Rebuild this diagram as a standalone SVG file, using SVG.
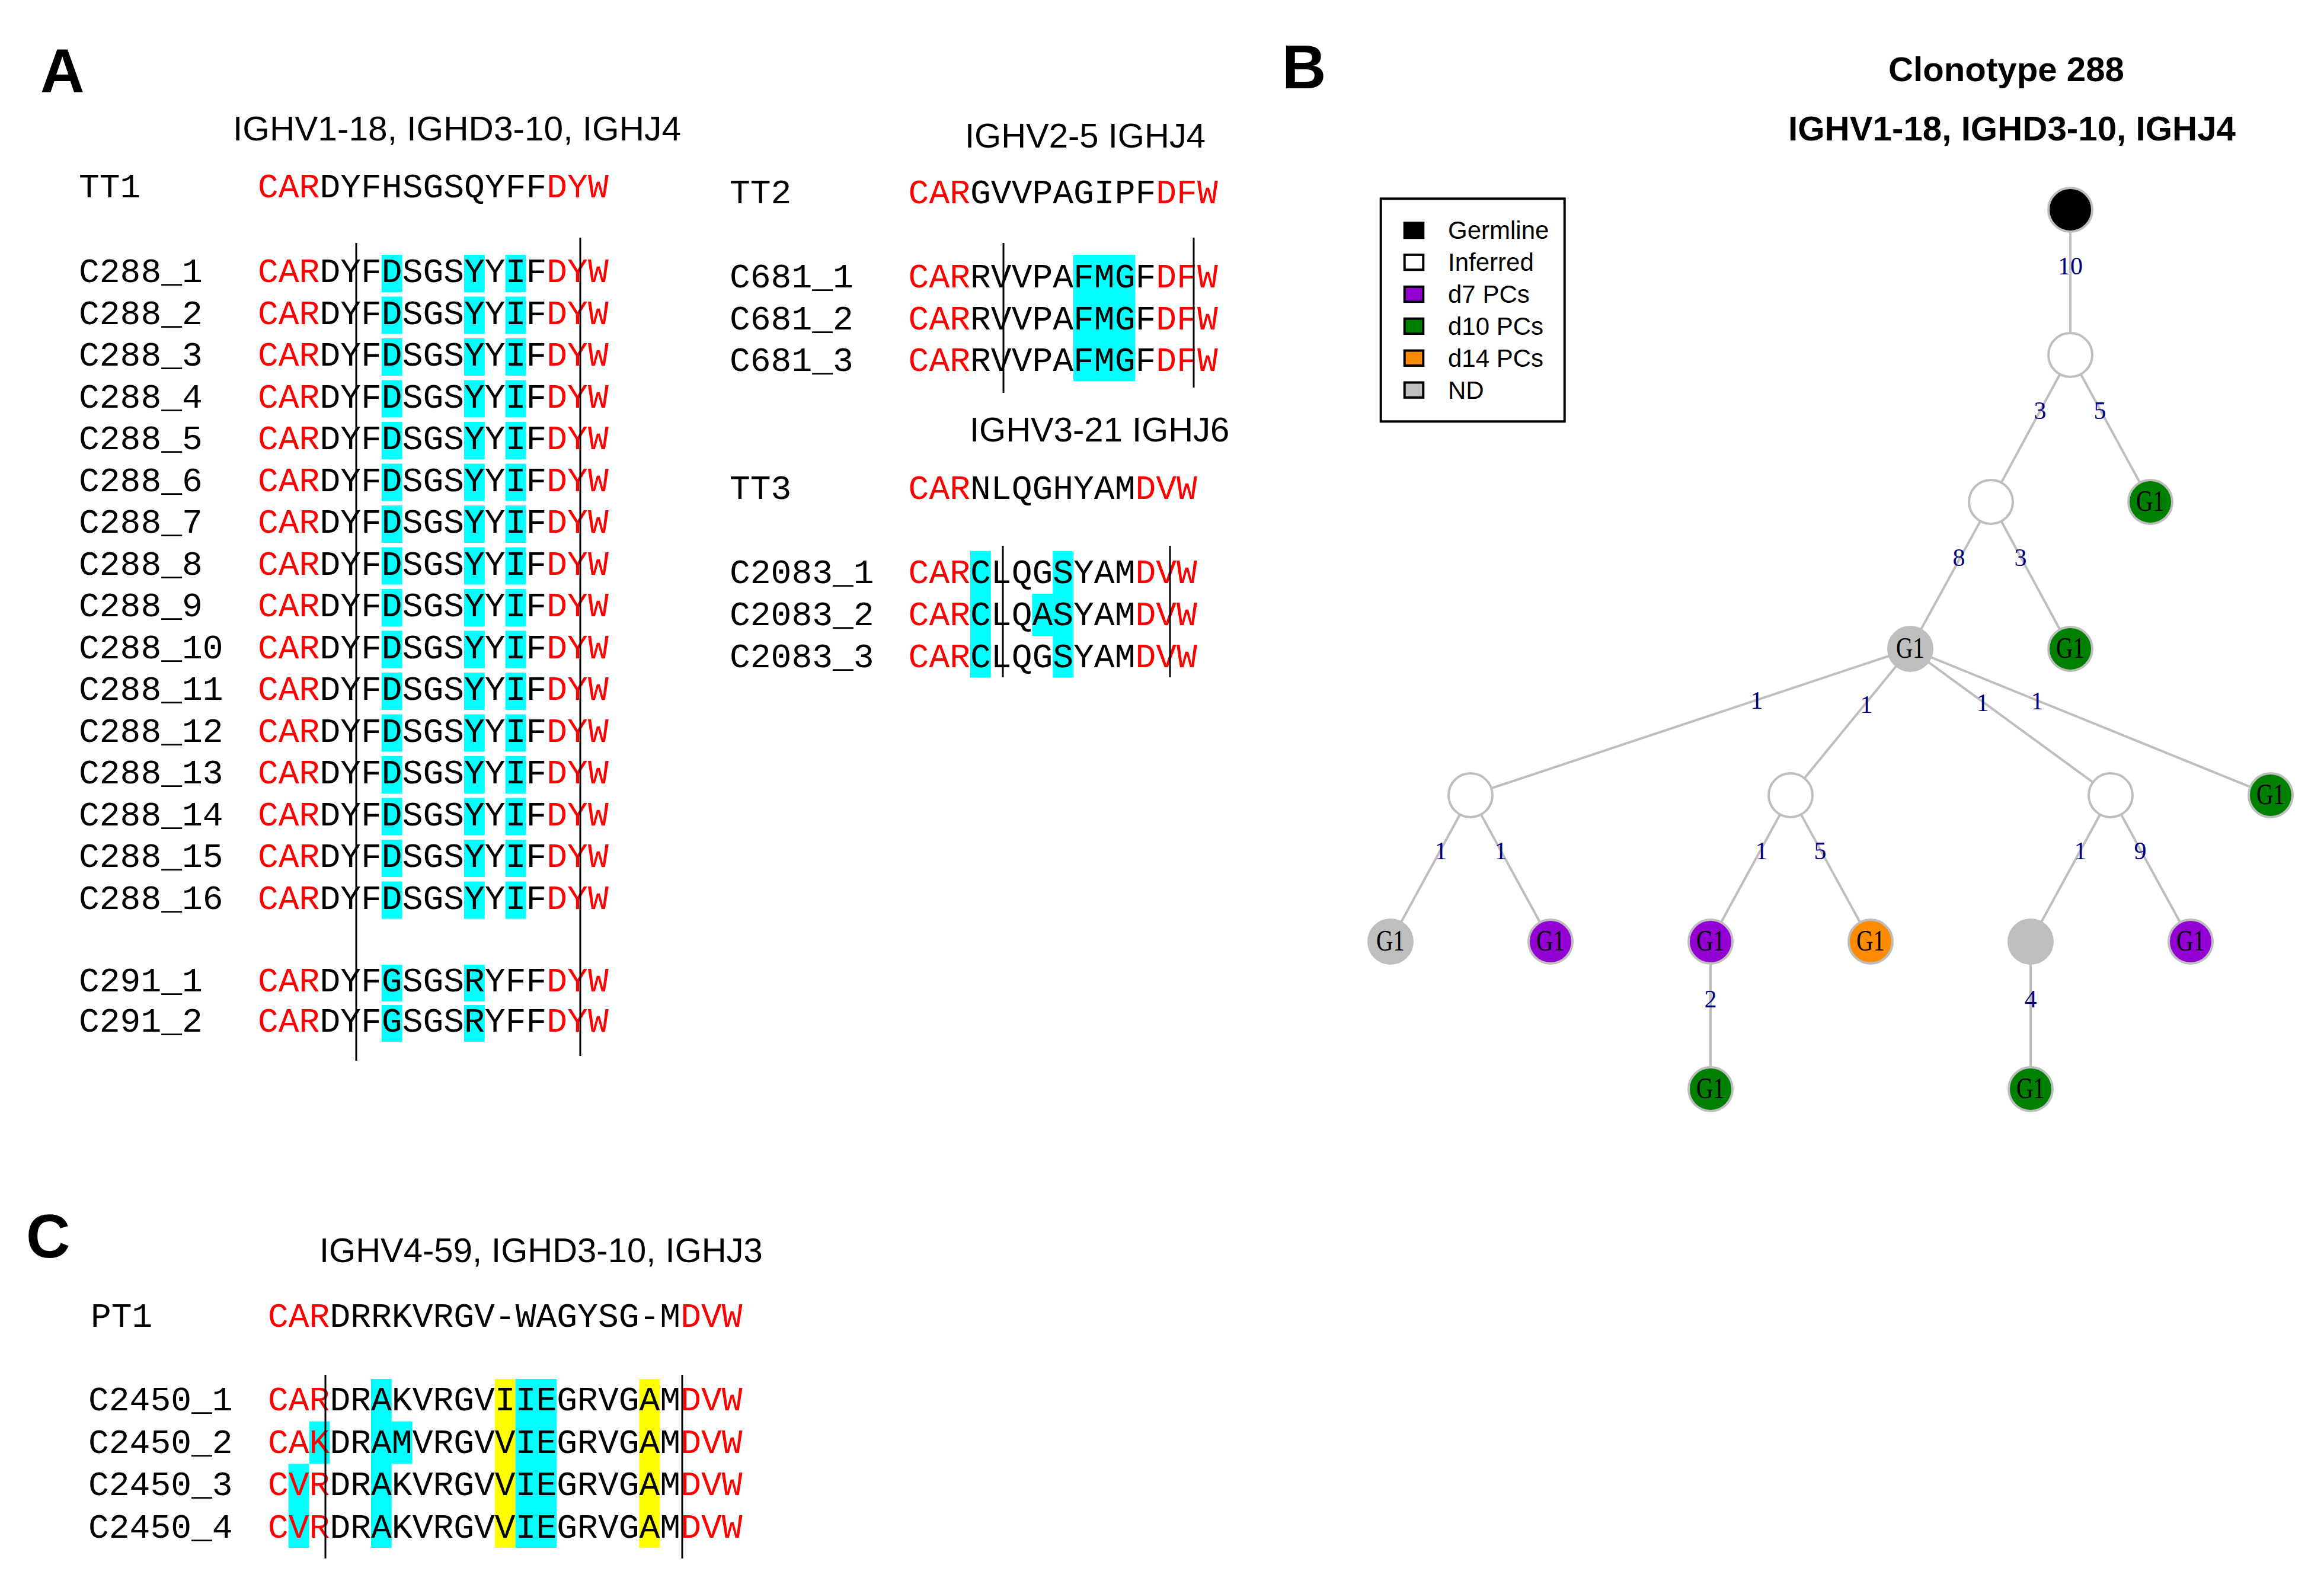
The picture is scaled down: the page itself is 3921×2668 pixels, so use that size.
<svg xmlns="http://www.w3.org/2000/svg" xmlns:xlink="http://www.w3.org/1999/xlink" width="3921" height="2668" viewBox="0 0 3921 2668">
<style>
.seq{font-family:"Liberation Mono","Courier New",monospace;font-size:58px;fill:#000}
.r{fill:#ff0000}
.ttl{font-family:"Liberation Sans",Arial,sans-serif;font-size:58px;fill:#000}
.bttl{font-family:"Liberation Sans",Arial,sans-serif;font-size:58px;font-weight:bold;fill:#000}
.pl{font-family:"Liberation Sans",Arial,sans-serif;font-size:103px;font-weight:bold;fill:#000}
.cy{fill:#00ffff}
.ye{fill:#ffff00}
.vl{stroke:#000;stroke-width:3;fill:none}
.edge{stroke:#bebebe;stroke-width:4;fill:none}
.node{stroke:#bebebe;stroke-width:4}
.el{font-family:"Liberation Serif","Times New Roman",serif;font-size:42px;fill:#000080;text-anchor:middle}
.nl{font-family:"Liberation Serif","Times New Roman",serif;font-size:50px;fill:#000;text-anchor:middle}
.lg{font-family:"Liberation Sans",Arial,sans-serif;font-size:42px;fill:#000}
.lsq{stroke:#000;stroke-width:4}
</style>
<defs>
<g id="c288box">
<rect class="cy" x="643.8" y="-46" width="34.8" height="63"/>
<rect class="cy" x="783" y="-46" width="34.8" height="63"/>
<rect class="cy" x="852.6" y="-46" width="34.8" height="63"/>
</g>
</defs>
<rect width="3921" height="2668" fill="#fff"/>

<!-- Panel labels -->
<text class="pl" x="68" y="155">A</text>
<text class="pl" x="2163" y="149">B</text>
<text class="pl" x="44" y="2122">C</text>

<!-- Panel A left -->
<g id="panelA-left">
<text class="ttl" x="393" y="237" textLength="756" lengthAdjust="spacingAndGlyphs">IGHV1-18, IGHD3-10, IGHJ4</text>
<g id="boxes-c288">
<use xlink:href="#c288box" y="476"/>
<use xlink:href="#c288box" y="546.5"/>
<use xlink:href="#c288box" y="617"/>
<use xlink:href="#c288box" y="687.5"/>
<use xlink:href="#c288box" y="758"/>
<use xlink:href="#c288box" y="828.5"/>
<use xlink:href="#c288box" y="899"/>
<use xlink:href="#c288box" y="969.5"/>
<use xlink:href="#c288box" y="1040"/>
<use xlink:href="#c288box" y="1110.5"/>
<use xlink:href="#c288box" y="1181"/>
<use xlink:href="#c288box" y="1251.5"/>
<use xlink:href="#c288box" y="1322"/>
<use xlink:href="#c288box" y="1392.5"/>
<use xlink:href="#c288box" y="1463"/>
<use xlink:href="#c288box" y="1533.5"/>
<rect class="cy" x="643.8" y="1628" width="34.8" height="62"/>
<rect class="cy" x="783" y="1628" width="34.8" height="62"/>
<rect class="cy" x="643.8" y="1696" width="34.8" height="62"/>
<rect class="cy" x="783" y="1696" width="34.8" height="62"/>
</g>
<text class="seq" x="133" y="333">TT1</text>
<text class="seq" x="435" y="333"><tspan class="r">CAR</tspan>DYFHSGSQYFF<tspan class="r">DYW</tspan></text>
<text class="seq" x="133" y="476">C288_1</text>
<text class="seq" x="133" y="546.5">C288_2</text>
<text class="seq" x="133" y="617">C288_3</text>
<text class="seq" x="133" y="687.5">C288_4</text>
<text class="seq" x="133" y="758">C288_5</text>
<text class="seq" x="133" y="828.5">C288_6</text>
<text class="seq" x="133" y="899">C288_7</text>
<text class="seq" x="133" y="969.5">C288_8</text>
<text class="seq" x="133" y="1040">C288_9</text>
<text class="seq" x="133" y="1110.5">C288_10</text>
<text class="seq" x="133" y="1181">C288_11</text>
<text class="seq" x="133" y="1251.5">C288_12</text>
<text class="seq" x="133" y="1322">C288_13</text>
<text class="seq" x="133" y="1392.5">C288_14</text>
<text class="seq" x="133" y="1463">C288_15</text>
<text class="seq" x="133" y="1533.5">C288_16</text>
<text class="seq" x="435" y="476"><tspan class="r">CAR</tspan>DYFDSGSYYIF<tspan class="r">DYW</tspan></text>
<text class="seq" x="435" y="546.5"><tspan class="r">CAR</tspan>DYFDSGSYYIF<tspan class="r">DYW</tspan></text>
<text class="seq" x="435" y="617"><tspan class="r">CAR</tspan>DYFDSGSYYIF<tspan class="r">DYW</tspan></text>
<text class="seq" x="435" y="687.5"><tspan class="r">CAR</tspan>DYFDSGSYYIF<tspan class="r">DYW</tspan></text>
<text class="seq" x="435" y="758"><tspan class="r">CAR</tspan>DYFDSGSYYIF<tspan class="r">DYW</tspan></text>
<text class="seq" x="435" y="828.5"><tspan class="r">CAR</tspan>DYFDSGSYYIF<tspan class="r">DYW</tspan></text>
<text class="seq" x="435" y="899"><tspan class="r">CAR</tspan>DYFDSGSYYIF<tspan class="r">DYW</tspan></text>
<text class="seq" x="435" y="969.5"><tspan class="r">CAR</tspan>DYFDSGSYYIF<tspan class="r">DYW</tspan></text>
<text class="seq" x="435" y="1040"><tspan class="r">CAR</tspan>DYFDSGSYYIF<tspan class="r">DYW</tspan></text>
<text class="seq" x="435" y="1110.5"><tspan class="r">CAR</tspan>DYFDSGSYYIF<tspan class="r">DYW</tspan></text>
<text class="seq" x="435" y="1181"><tspan class="r">CAR</tspan>DYFDSGSYYIF<tspan class="r">DYW</tspan></text>
<text class="seq" x="435" y="1251.5"><tspan class="r">CAR</tspan>DYFDSGSYYIF<tspan class="r">DYW</tspan></text>
<text class="seq" x="435" y="1322"><tspan class="r">CAR</tspan>DYFDSGSYYIF<tspan class="r">DYW</tspan></text>
<text class="seq" x="435" y="1392.5"><tspan class="r">CAR</tspan>DYFDSGSYYIF<tspan class="r">DYW</tspan></text>
<text class="seq" x="435" y="1463"><tspan class="r">CAR</tspan>DYFDSGSYYIF<tspan class="r">DYW</tspan></text>
<text class="seq" x="435" y="1533.5"><tspan class="r">CAR</tspan>DYFDSGSYYIF<tspan class="r">DYW</tspan></text>
<text class="seq" x="133" y="1673">C291_1</text>
<text class="seq" x="133" y="1741">C291_2</text>
<text class="seq" x="435" y="1673"><tspan class="r">CAR</tspan>DYFGSGSRYFF<tspan class="r">DYW</tspan></text>
<text class="seq" x="435" y="1741"><tspan class="r">CAR</tspan>DYFGSGSRYFF<tspan class="r">DYW</tspan></text>
<line class="vl" x1="601" y1="410" x2="601" y2="1790"/>
<line class="vl" x1="979" y1="401" x2="979" y2="1782"/>
</g>

<!-- Panel A right -->
<g id="panelA-right">
<text class="ttl" x="1628" y="249">IGHV2-5 IGHJ4</text>
<rect class="cy" x="1811" y="430" width="104.4" height="71"/>
<rect class="cy" x="1811" y="500.5" width="104.4" height="71"/>
<rect class="cy" x="1811" y="571" width="104.4" height="72"/>
<text class="seq" x="1231" y="343">TT2</text>
<text class="seq" x="1532.6" y="343"><tspan class="r">CAR</tspan>GVVPAGIPF<tspan class="r">DFW</tspan></text>
<text class="seq" x="1231" y="485">C681_1</text>
<text class="seq" x="1231" y="555.5">C681_2</text>
<text class="seq" x="1231" y="626">C681_3</text>
<text class="seq" x="1532.6" y="485"><tspan class="r">CAR</tspan>RVVPAFMGF<tspan class="r">DFW</tspan></text>
<text class="seq" x="1532.6" y="555.5"><tspan class="r">CAR</tspan>RVVPAFMGF<tspan class="r">DFW</tspan></text>
<text class="seq" x="1532.6" y="626"><tspan class="r">CAR</tspan>RVVPAFMGF<tspan class="r">DFW</tspan></text>
<line class="vl" x1="1693" y1="410" x2="1693" y2="663"/>
<line class="vl" x1="2014" y1="401" x2="2014" y2="654"/>

<text class="ttl" x="1636" y="745">IGHV3-21 IGHJ6</text>
<rect class="cy" x="1637" y="930" width="34.8" height="213.5"/>
<rect class="cy" x="1776.2" y="930" width="34.8" height="213.5"/>
<rect class="cy" x="1741.4" y="1002" width="34.8" height="71"/>
<text class="seq" x="1231" y="842">TT3</text>
<text class="seq" x="1532.6" y="842"><tspan class="r">CAR</tspan>NLQGHYAM<tspan class="r">DVW</tspan></text>
<text class="seq" x="1231" y="984">C2083_1</text>
<text class="seq" x="1231" y="1055">C2083_2</text>
<text class="seq" x="1231" y="1126">C2083_3</text>
<text class="seq" x="1532.6" y="984"><tspan class="r">CAR</tspan>CLQGSYAM<tspan class="r">DVW</tspan></text>
<text class="seq" x="1532.6" y="1055"><tspan class="r">CAR</tspan>CLQASYAM<tspan class="r">DVW</tspan></text>
<text class="seq" x="1532.6" y="1126"><tspan class="r">CAR</tspan>CLQGSYAM<tspan class="r">DVW</tspan></text>
<line class="vl" x1="1692" y1="921" x2="1692" y2="1143"/>
<line class="vl" x1="1974" y1="921" x2="1974" y2="1143"/>
</g>

<!-- Panel C -->
<g id="panelC">
<text class="ttl" x="539" y="2130">IGHV4-59, IGHD3-10, IGHJ3</text>
<rect class="cy" x="626" y="2327" width="34.8" height="285"/>
<rect class="cy" x="660.8" y="2398.7" width="34.8" height="71.6"/>
<rect class="cy" x="521.6" y="2398.7" width="34.8" height="71.6"/>
<rect class="cy" x="486.8" y="2470.3" width="34.8" height="141.7"/>
<rect class="ye" x="834.8" y="2327" width="34.8" height="285"/>
<rect class="cy" x="869.6" y="2327" width="69.6" height="285"/>
<rect class="ye" x="1078.4" y="2327" width="34.8" height="285"/>
<text class="seq" x="153" y="2239">PT1</text>
<text class="seq" x="452" y="2239"><tspan class="r">CAR</tspan>DRRKVRGV-WAGYSG-M<tspan class="r">DVW</tspan></text>
<text class="seq" x="149" y="2380">C2450_1</text>
<text class="seq" x="149" y="2451.7">C2450_2</text>
<text class="seq" x="149" y="2523.3">C2450_3</text>
<text class="seq" x="149" y="2595">C2450_4</text>
<text class="seq" x="452" y="2380"><tspan class="r">CAR</tspan>DRAKVRGVIIEGRVGAM<tspan class="r">DVW</tspan></text>
<text class="seq" x="452" y="2451.7"><tspan class="r">CAK</tspan>DRAMVRGVVIEGRVGAM<tspan class="r">DVW</tspan></text>
<text class="seq" x="452" y="2523.3"><tspan class="r">CVR</tspan>DRAKVRGVVIEGRVGAM<tspan class="r">DVW</tspan></text>
<text class="seq" x="452" y="2595"><tspan class="r">CVR</tspan>DRAKVRGVVIEGRVGAM<tspan class="r">DVW</tspan></text>
<line class="vl" x1="549" y1="2320" x2="549" y2="2630"/>
<line class="vl" x1="1151" y1="2320" x2="1151" y2="2630"/>
</g>

<!-- Panel B -->
<g id="panelB-title">
<text class="bttl" x="3186" y="137" textLength="398" lengthAdjust="spacingAndGlyphs">Clonotype 288</text>
<text class="bttl" x="3017" y="237" textLength="755" lengthAdjust="spacingAndGlyphs">IGHV1-18, IGHD3-10, IGHJ4</text>
</g>

<g id="legend">
<rect x="2329.7" y="335.3" width="310" height="376" fill="#fff" stroke="#000" stroke-width="4"/>
<rect class="lsq" x="2369.7" y="376" width="31.6" height="25.3" fill="#000"/>
<rect class="lsq" x="2369.7" y="429.9" width="31.6" height="25.3" fill="#fff"/>
<rect class="lsq" x="2369.7" y="483.8" width="31.6" height="25.3" fill="#9400d3"/>
<rect class="lsq" x="2369.7" y="537.7" width="31.6" height="25.3" fill="#008000"/>
<rect class="lsq" x="2369.7" y="591.6" width="31.6" height="25.3" fill="#ff8c00"/>
<rect class="lsq" x="2369.7" y="645.5" width="31.6" height="25.3" fill="#bebebe"/>
<text class="lg" x="2443" y="403">Germline</text>
<text class="lg" x="2443" y="457">Inferred</text>
<text class="lg" x="2443" y="511">d7 PCs</text>
<text class="lg" x="2443" y="565">d10 PCs</text>
<text class="lg" x="2443" y="619">d14 PCs</text>
<text class="lg" x="2443" y="673">ND</text>
</g>

<g id="connectors">
<line class="edge" x1="3493" y1="354" x2="3493" y2="599"/>
<line class="edge" x1="3493" y1="599" x2="3359" y2="847"/>
<line class="edge" x1="3493" y1="599" x2="3628" y2="847"/>
<line class="edge" x1="3359" y1="847" x2="3223" y2="1095"/>
<line class="edge" x1="3359" y1="847" x2="3493" y2="1095"/>
<line class="edge" x1="3223" y1="1095" x2="2481" y2="1342"/>
<line class="edge" x1="3223" y1="1095" x2="3021" y2="1342"/>
<line class="edge" x1="3223" y1="1095" x2="3561" y2="1342"/>
<line class="edge" x1="3223" y1="1095" x2="3831" y2="1342"/>
<line class="edge" x1="2481" y1="1342" x2="2346" y2="1589"/>
<line class="edge" x1="2481" y1="1342" x2="2616" y2="1589"/>
<line class="edge" x1="3021" y1="1342" x2="2886" y2="1589"/>
<line class="edge" x1="3021" y1="1342" x2="3156" y2="1589"/>
<line class="edge" x1="3561" y1="1342" x2="3426" y2="1589"/>
<line class="edge" x1="3561" y1="1342" x2="3696" y2="1589"/>
<line class="edge" x1="2886" y1="1589" x2="2886" y2="1838"/>
<line class="edge" x1="3426" y1="1589" x2="3426" y2="1838"/>
<text class="el" x="3493" y="463">10</text>
<text class="el" x="3442" y="707">3</text>
<text class="el" x="3543" y="707">5</text>
<text class="el" x="3305" y="955">8</text>
<text class="el" x="3409" y="955">3</text>
<text class="el" x="2964" y="1196">1</text>
<text class="el" x="3149" y="1203">1</text>
<text class="el" x="3345" y="1200">1</text>
<text class="el" x="3437" y="1197">1</text>
<text class="el" x="2431" y="1450">1</text>
<text class="el" x="2532" y="1450">1</text>
<text class="el" x="2972" y="1450">1</text>
<text class="el" x="3071" y="1450">5</text>
<text class="el" x="3510" y="1450">1</text>
<text class="el" x="3611" y="1450">9</text>
<text class="el" x="2886" y="1700">2</text>
<text class="el" x="3426" y="1700">4</text>
</g>

<g id="nodes">
<g id="n0"><circle class="node" cx="3493" cy="354" r="37" fill="#000"/></g>
<g id="n1"><circle class="node" cx="3493" cy="599" r="37" fill="#fff"/></g>
<g id="n2"><circle class="node" cx="3359" cy="847" r="37" fill="#fff"/></g>
<g id="n3"><circle class="node" cx="3628" cy="847" r="37" fill="#008000"/><text class="nl" x="3628" y="862" textLength="48" lengthAdjust="spacingAndGlyphs">G1</text></g>
<g id="n4"><circle class="node" cx="3223" cy="1095" r="37" fill="#bebebe"/><text class="nl" x="3223" y="1110" textLength="48" lengthAdjust="spacingAndGlyphs">G1</text></g>
<g id="n5"><circle class="node" cx="3493" cy="1095" r="37" fill="#008000"/><text class="nl" x="3493" y="1110" textLength="48" lengthAdjust="spacingAndGlyphs">G1</text></g>
<g id="n6"><circle class="node" cx="2481" cy="1342" r="37" fill="#fff"/></g>
<g id="n7"><circle class="node" cx="3021" cy="1342" r="37" fill="#fff"/></g>
<g id="n8"><circle class="node" cx="3561" cy="1342" r="37" fill="#fff"/></g>
<g id="n9"><circle class="node" cx="3831" cy="1342" r="37" fill="#008000"/><text class="nl" x="3831" y="1357" textLength="48" lengthAdjust="spacingAndGlyphs">G1</text></g>
<g id="n10"><circle class="node" cx="2346" cy="1589" r="37" fill="#bebebe"/><text class="nl" x="2346" y="1604" textLength="48" lengthAdjust="spacingAndGlyphs">G1</text></g>
<g id="n11"><circle class="node" cx="2616" cy="1589" r="37" fill="#9400d3"/><text class="nl" x="2616" y="1604" textLength="48" lengthAdjust="spacingAndGlyphs">G1</text></g>
<g id="n12"><circle class="node" cx="2886" cy="1589" r="37" fill="#9400d3"/><text class="nl" x="2886" y="1604" textLength="48" lengthAdjust="spacingAndGlyphs">G1</text></g>
<g id="n13"><circle class="node" cx="3156" cy="1589" r="37" fill="#ff8c00"/><text class="nl" x="3156" y="1604" textLength="48" lengthAdjust="spacingAndGlyphs">G1</text></g>
<g id="n14"><circle class="node" cx="3426" cy="1589" r="37" fill="#bebebe"/></g>
<g id="n15"><circle class="node" cx="3696" cy="1589" r="37" fill="#9400d3"/><text class="nl" x="3696" y="1604" textLength="48" lengthAdjust="spacingAndGlyphs">G1</text></g>
<g id="n16"><circle class="node" cx="2886" cy="1838" r="37" fill="#008000"/><text class="nl" x="2886" y="1853" textLength="48" lengthAdjust="spacingAndGlyphs">G1</text></g>
<g id="n17"><circle class="node" cx="3426" cy="1838" r="37" fill="#008000"/><text class="nl" x="3426" y="1853" textLength="48" lengthAdjust="spacingAndGlyphs">G1</text></g>
</g>
</svg>
